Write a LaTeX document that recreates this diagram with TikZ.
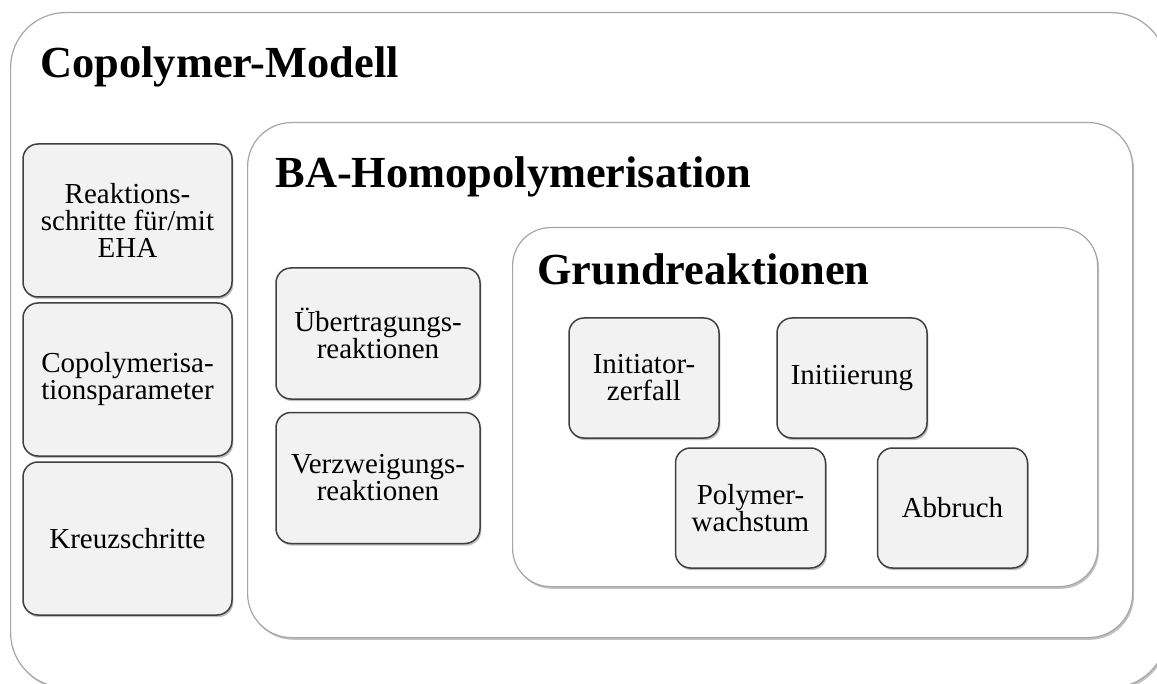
\documentclass[tikz,border=0pt]{standalone}
\usepackage{fontspec}
\setmainfont{Liberation Serif}
\usetikzlibrary{shadows}

\definecolor{boxfill}{HTML}{F2F2F2}
\definecolor{boxline}{HTML}{404040}
\definecolor{frameline}{HTML}{A6A6A6}

\begin{document}
\begin{tikzpicture}[x=0.5pt, y=-0.5pt,
	every node/.style={font=\fontsize{14.5}{13.5}\selectfont},
	softshadow/.style={drop shadow={shadow xshift=0.7pt, shadow yshift=-1.1pt, opacity=0.35, fill=black!70}},
	frame/.style={draw=frameline, line width=0.6pt, fill=white, softshadow, inner sep=0pt, anchor=north west},
	stepbox/.style={draw=boxline, fill=boxfill, line width=0.75pt, rounded corners=7.5pt, align=center, inner sep=0pt, softshadow},
	heading/.style={anchor=base west, inner sep=0pt, font=\fontsize{22.2}{26}\selectfont\bfseries}]
	\useasboundingbox (0,0) rectangle (1157,684);
	% containers
	\node[frame, rounded corners=27.5pt, minimum width=578pt, minimum height=337.5pt] (copoly) at (10,12) {};
	\node[frame, rounded corners=22pt, minimum width=442.5pt, minimum height=257.5pt] (homo) at (247,122) {};
	\node[frame, rounded corners=19pt, minimum width=292.5pt, minimum height=179.5pt] (grund) at (512,227) {};
	\node[heading] (copolytitle) at (40,78) {Copolymer-Modell};
	\node[heading] (homotitle) at (275,188) {BA-Homopolymerisation};
	\node[heading] (grundtitle) at (537,285) {Grundreaktionen};
	% copolymer steps
	\node[stepbox, minimum width=104.5pt, minimum height=76.5pt] (eha) at (127.5,220.5) {Reaktions-\\schritte für/mit\\EHA};
	\node[stepbox, minimum width=104.5pt, minimum height=76.5pt] (param) at (127.5,379.5) {Copolymerisa-\\tionsparameter};
	\node[stepbox, minimum width=104.5pt, minimum height=76.5pt] (kreuz) at (127.5,538.5) {Kreuzschritte};
	% homopolymerisation steps
	\node[stepbox, minimum width=102pt, minimum height=65.5pt] (uebertr) at (378,333.5) {Übertragungs-\\reaktionen};
	\node[stepbox, minimum width=102pt, minimum height=65.5pt] (verzw) at (378,478) {Verzweigungs-\\reaktionen};
	% basic reactions
	\node[stepbox, minimum width=75pt, minimum height=60pt] (zerfall) at (644,378) {Initiator-\\zerfall};
	\node[stepbox, minimum width=75pt, minimum height=60pt] (init) at (852,378) {Initiierung};
	\node[stepbox, minimum width=75pt, minimum height=60pt] (wachstum) at (750.5,508) {Polymer-\\wachstum};
	\node[stepbox, minimum width=75pt, minimum height=60pt] (abbruch) at (952.5,508) {Abbruch};
\end{tikzpicture}
\end{document}
